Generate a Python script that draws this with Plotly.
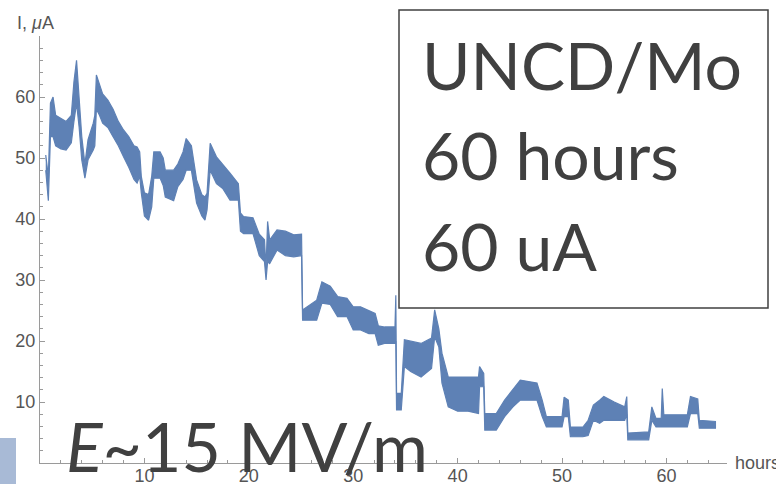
import plotly.graph_objects as go

# Envelope of the noisy current trace (hours, upper, lower in µA)
hours = [0.55, 0.8, 1.0, 1.25, 1.5, 2.0, 2.5, 3.0, 3.25, 3.5, 3.75, 4.0, 4.3, 4.6, 5.1, 5.25,
         5.4, 5.7, 6.0, 6.5, 7.0, 7.5, 8.0, 8.5, 9.0, 9.3, 9.55, 9.7, 10.0, 10.4, 10.7, 10.9,
         11.5, 11.8, 12.0, 12.8, 13.2, 13.7, 14.0, 14.5, 15.0, 15.5, 15.8, 16.0, 16.3, 16.9,
         17.5, 18.2, 19.0, 19.2, 19.5, 20.4, 21.0, 21.5, 21.65, 21.8, 22.0, 22.7, 23.5, 24.3,
         25.05, 25.15, 26.5, 27.0, 27.8, 28.5, 29.4, 30.0, 30.7, 31.5, 32.1, 32.4, 33.0, 34.0,
         34.08, 34.15, 34.6, 34.9, 35.5, 36.5, 37.5, 37.8, 38.2, 38.5, 39.1, 40.0, 41.0, 42.0,
         42.1, 42.5, 42.6, 43.7, 44.5, 45.3, 46.0, 47.6, 48.1, 48.5, 50.0, 50.2, 50.6, 50.8,
         52.0, 52.5, 53.0, 53.6, 54.0, 55.0, 56.0, 56.2, 56.3, 58.3, 58.6, 59.0, 59.5, 59.6,
         59.75, 62.0, 62.3, 63.0, 63.15, 64.75]
upper = [50.5, 47, 59, 60, 57, 56.5, 56, 57, 62.5, 66, 60, 53.5, 49, 53, 55.7, 57,
         63.6, 62, 60.5, 59.5, 58, 56, 54.6, 53.5, 52, 51.8, 51, 47, 44.3, 44, 47, 51,
         51, 50, 48, 48, 49, 51, 53.2, 52, 46.4, 44, 43.6, 44.2, 52.4, 50.2,
         49, 47.5, 45.8, 41, 40.4, 40.2, 37.5, 36.6, 32, 39.6, 36.6, 38.2, 38, 37.4,
         37.5, 25.1, 26.7, 29.7, 29, 27.3, 27, 25.6, 25.6, 25, 24.5, 22.5, 22.3, 22.3,
         27.5, 11.4, 11.4, 20.2, 20, 19.6, 20.5, 25.1, 22, 18, 14.1, 14.1, 14, 14.1,
         15.8, 14.7, 8.1, 8.1, 10.3, 12, 13.6, 13.1, 10.3, 7.6, 7.6, 10.8, 10.3, 5.9,
         5.9, 7, 9.5, 10.3, 10.9, 10, 9.2, 10.9, 4.9, 5.1, 9.2, 7.3, 7.3, 12.2,
         7.9, 7.9, 10.9, 10.5, 7, 6.8]
lower = [48, 43, 53.5, 53.5, 52, 51.5, 51.3, 52.5, 56, 59, 55, 49.7, 46.7, 49.7, 51.3, 52,
         58, 57, 55.7, 55, 53.5, 52, 50.2, 48.5, 46.5, 45.9, 47, 44.3, 40.5, 39.8, 42, 46.7,
         46.7, 45.5, 43.6, 43, 45.3, 46.5, 48, 48, 42.6, 40.5, 39.8, 41.5, 48, 45.8,
         45, 43.1, 43.1, 38, 37.6, 37.6, 34, 33, 30, 33, 32.7, 34.9, 34, 33.8,
         34, 23.4, 23.4, 26.2, 26, 24, 24, 21.8, 21.8, 21.2, 21.2, 19.3, 19.6, 19.6,
         20, 8.7, 8.7, 15.8, 15, 14.1, 15.5, 20.7, 19, 13.1, 9.2, 8.5, 8.5, 8.1,
         12.5, 12.5, 5.4, 5.4, 7.6, 9.2, 10.3, 10.3, 7.6, 5.9, 5.9, 7.6, 7.6, 4.3,
         4.3, 4.5, 7, 6.5, 7, 7, 7, 8, 3.8, 3.8, 7, 5.9, 5.9, 6,
         5.9, 5.9, 8.1, 8.1, 5.7, 5.7]

x_ticks = [10, 20, 30, 40, 50, 60]
y_ticks = [10, 20, 30, 40, 50, 60]
x_minor = [2, 4, 6, 8, 12, 14, 16, 18, 22, 24, 26, 28, 32, 34, 36, 38, 42, 44, 46, 48,
           52, 54, 56, 58, 62, 64]
y_minor = [2, 4, 6, 8, 12, 14, 16, 18, 22, 24, 26, 28, 32, 34, 36, 38, 42, 44, 46, 48,
           52, 54, 56, 58, 62, 64, 66, 68]

LINE = "#5E81B5"
W, H = 776, 484
ML, MR, MT, MB = 40, 49, 36, 21
PW, PH = W - ML - MR, H - MT - MB


def px(x):
    return (x - ML) / PW


def py(y):
    return (H - MB - y) / PH


fig = go.Figure()
fig.add_trace(go.Scatter(x=hours, y=lower, mode="lines",
                         line=dict(color=LINE, width=1.2), hoverinfo="skip"))
fig.add_trace(go.Scatter(x=hours, y=upper, mode="lines", fill="tonexty",
                         fillcolor=LINE, line=dict(color=LINE, width=1.2)))

axis_common = dict(showgrid=False, zeroline=False, showline=True, linecolor="#9a9a9a",
                   linewidth=1, ticks="inside", ticklen=5, tickcolor="#9a9a9a",
                   automargin=False,
                   tickfont=dict(family="Liberation Sans", size=18, color="#555555"))
fig.update_xaxes(range=[0, 65.8], tickmode="array", tickvals=x_ticks,
                 ticklabelstandoff=-4,
                 minor=dict(tickmode="array", tickvals=x_minor, ticks="inside",
                            ticklen=3, tickcolor="#9a9a9a"),
                 **axis_common)
fig.update_yaxes(range=[0, 70], tickmode="array", tickvals=y_ticks,
                 minor=dict(tickmode="array", tickvals=y_minor, ticks="inside",
                            ticklen=3, tickcolor="#9a9a9a"),
                 **axis_common)

fig.add_shape(type="rect", xref="paper", yref="paper", x0=px(399), x1=px(768),
              y0=py(308), y1=py(10), line=dict(color="#404040", width=1.5),
              fillcolor="white", layer="above")
fig.add_shape(type="rect", xref="paper", yref="paper", x0=px(0), x1=px(16),
              y0=py(484), y1=py(438), line=dict(width=0),
              fillcolor="rgb(168,186,214)", layer="above")

big = dict(family="Lato", size=66, color="#404040")
for txt, yc in [("UNCD/Mo", 65), ("60 hours", 154), ("60 uA", 245)]:
    fig.add_annotation(text=txt, xref="paper", yref="paper", x=px(420), y=py(yc),
                       xanchor="left", yanchor="middle", showarrow=False, font=big)
fig.add_annotation(text="<i>E</i>~15 MV/m", xref="paper", yref="paper", x=px(64),
                   y=py(445), xanchor="left", yanchor="middle", showarrow=False,
                   font=dict(family="Lato", size=68, color="#404040"))
fig.add_annotation(text="I, <i>μ</i>A", xref="paper", yref="paper", x=px(15), y=py(23),
                   xanchor="left", yanchor="middle", showarrow=False,
                   font=dict(family="Liberation Sans", size=18, color="#555555"))
fig.add_annotation(text="hours", xref="paper", yref="paper", x=px(733), y=py(463),
                   xanchor="left", yanchor="middle", showarrow=False,
                   font=dict(family="Liberation Sans", size=18, color="#555555"))

fig.update_layout(width=W, height=H, margin=dict(l=ML, r=MR, t=MT, b=MB),
                  paper_bgcolor="white", plot_bgcolor="white", showlegend=False)
fig.write_html("out.html")
